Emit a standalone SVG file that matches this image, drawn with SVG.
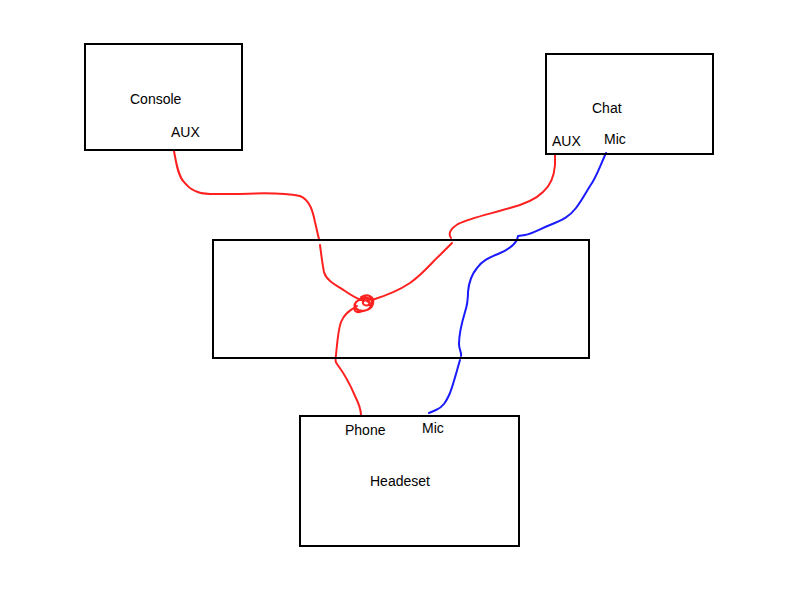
<svg xmlns="http://www.w3.org/2000/svg" width="800" height="600" viewBox="0 0 800 600">
<style>
.box{fill:none;stroke:#000;stroke-width:2}
.red{fill:none;stroke:#ff2020;stroke-width:2;stroke-linecap:round;stroke-linejoin:round}
.blue{fill:none;stroke:#1a1aff;stroke-width:2;stroke-linecap:round;stroke-linejoin:round}
text{font-family:"Liberation Sans",Arial,sans-serif;font-size:14px;fill:#000}
</style>
<rect width="800" height="600" fill="#fff"/>
<g id="connectors">
<path class="red" d="M174,151 C176,162 178,176 184,182 C190,190 198,194 210,194 L240,194 C260,193 285,193 300,196 C310,200 313,212 315,222 C317,230 318,236 319,239"/>
<path class="red" d="M320,245 C321,252 322,262 324,272 C326,280 334,284 345,291 C352,296 358,299 364,301"/>
<path class="red" d="M361,297 C368,293 375,297 373,304 C371,311 360,313 356,308 C352,303 360,297 368,298 C375,300 372,309 364,311 C357,312 352,307 356,302 C360,298 369,300 370,305 M356,306 C352,310 356,314 362,311 M364,296 C370,294 374,299 371,303 C368,307 362,306 363,301 C364,297 369,298 369,302"/>
<path class="red" d="M372,300 C385,296 398,291 410,283 C425,272 432,262 440,255 C446,249 449,246 452,243"/>
<path class="red" d="M357,306 C350,310 344,314 341,322 C338,330 337,345 336,355 C335,360 335,362 337,364 C343,372 350,384 355,396 C359,404 361,410 361,415"/>
<path class="red" d="M555,155 L555,165 C554,178 550,186 543,192 C535,200 525,204 510,208 C490,214 470,218 458,224 C450,229 448,234 451,238"/>
<path class="blue" d="M606,153 C600,166 596,178 590,186 C585,194 582,200 576,208 C570,216 563,220 550,225 C540,229 532,234 525,235 L518,236 L517,240 C514,245 508,250 498,254 C488,258 482,261 477,268 C472,274 469,280 468,292 C468,300 467,306 465,312 C462,322 459,334 459,344 C459,350 462,353 461,356"/>
<path class="blue" d="M460,360 C457,370 454,382 450,393 C446,402 443,407 436,410 L429,413"/>
</g>
<g id="console">
<rect class="box" x="85" y="44" width="157" height="106"/>
<text x="130" y="104">Console</text>
<text x="171" y="137">AUX</text>
</g>
<g id="chat">
<rect class="box" x="546" y="54" width="167" height="100"/>
<text x="592" y="113">Chat</text>
<text x="552" y="146">AUX</text>
<text x="604" y="144">Mic</text>
</g>
<g id="middle">
<rect class="box" x="213" y="240" width="376" height="118"/>
</g>
<g id="headset">
<rect class="box" x="300" y="416" width="219" height="130"/>
<text x="345" y="435">Phone</text>
<text x="422" y="433">Mic</text>
<text x="370" y="486">Headeset</text>
</g>
</svg>
